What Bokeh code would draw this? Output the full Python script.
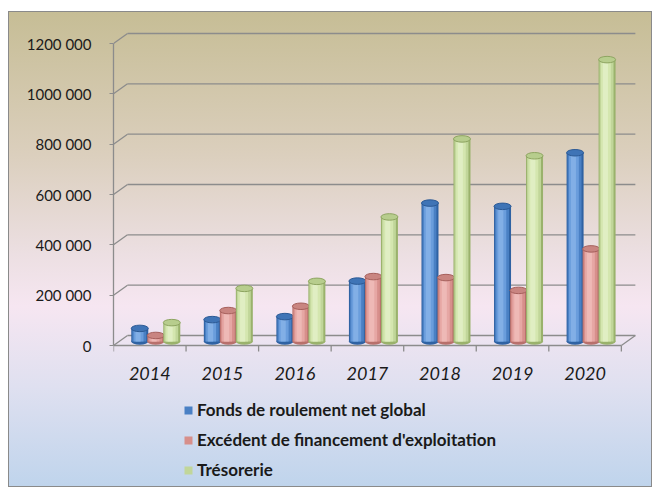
from bokeh.plotting import figure
from bokeh.models import FixedTicker, Legend, LegendItem, ColumnDataSource, Range1d
from bokeh.core.properties import value
from bokeh.embed import file_html
from bokeh.resources import INLINE

# ---------------- data ----------------
years = ["2014", "2015", "2016", "2017", "2018", "2019", "2020"]
fonds = [52000, 87000, 99000, 240000, 550000, 537000, 750000]
excedent = [24000, 123000, 140000, 258000, 254000, 203000, 368000]
tresorerie = [75000, 211000, 239000, 495000, 805000, 738000, 1120000]
series_names = ["Fonds de roulement net global",
                "Excédent de financement d'exploitation",
                "Trésorerie"]
y_ticks = [0, 200000, 400000, 600000, 800000, 1000000, 1200000]
y_tick_labels = ["0", "200 000", "400 000", "600 000", "800 000", "1000 000", "1200 000"]

# ---------------- geometry / style ----------------
W, H = 644, 476
TOP, BOTTOM = 19, 2
N = len(years)
X_END = N + 0.25
FRAME_W = 526
FRAME_H = H - TOP - BOTTOM
PX_X = FRAME_W / X_END            # px per category
Y_MAX = y_ticks[-1]
PX_Y = 302.0 / Y_MAX              # px per value unit
ZERO_FROM_TOP = 315               # px from frame top to the value 0
Y_END = ZERO_FROM_TOP / PX_Y
Y_START = -(FRAME_H - ZERO_FROM_TOP) / PX_Y

def dx(px):
    return px / PX_X

def dy(px):
    return px / PX_Y

FONT = "Lato"
GRID = "#8c8c8c"
TEXT = "#1a1a1a"

styles = [
    # dark edge, base, light, lighter, top, top rim
    ("#2f62a3", "#4a80c4", "#6a9ddc", "#82afe6", "#3f74b6", "#2c5a95"),
    ("#b8706c", "#d78f8b", "#e6a7a4", "#eeb9b6", "#c98581", "#a6605c"),
    ("#9ab26c", "#c1d69a", "#d4e6af", "#e0eec3", "#b7cd8d", "#8ea561"),
]

p = figure(width=W, height=H, output_backend="svg", toolbar_location=None,
           x_range=Range1d(0, X_END), y_range=Range1d(Y_START, Y_END),
           min_border_left=105, min_border_right=W - 105 - FRAME_W,
           min_border_top=TOP, min_border_bottom=BOTTOM)
p.margin = (11, 0, 0, 8)
p.styles = {
    "background-image": "linear-gradient(to bottom, #c6bd95 0%, #dbcfbd 30%, "
                        "#ecdfe2 51%, #f6e6f1 62%, #dfe0f0 79%, #bfd4ec 100%)",
    "outline": "1px solid #8a8a8a",
    "outline-offset": "-1px",
}
p.border_fill_alpha = 0
p.background_fill_alpha = 0
p.outline_line_color = None
p.xgrid.visible = False
p.ygrid.visible = False
p.xaxis.visible = False

# ---------------- back wall & floor ----------------
back_dx, back_dy = dx(14), dy(10)
p.segment(x0=[back_dx] * len(y_ticks), x1=[N + back_dx] * len(y_ticks),
          y0=[v + back_dy for v in y_ticks], y1=[v + back_dy for v in y_ticks],
          line_color=GRID, line_width=1.3)
p.segment(x0=[0] * len(y_ticks), x1=[back_dx] * len(y_ticks),
          y0=y_ticks, y1=[v + back_dy for v in y_ticks],
          line_color=GRID, line_width=1.3)
p.segment(x0=[N], x1=[N + back_dx], y0=[0], y1=[back_dy],
          line_color=GRID, line_width=1.3)

# category axis (front floor edge, ticks at category boundaries, labels)
p.segment(x0=[0], x1=[N], y0=[0], y1=[0], line_color=GRID, line_width=1.3)
p.segment(x0=list(range(N + 1)), x1=list(range(N + 1)),
          y0=[0] * (N + 1), y1=[-dy(6)] * (N + 1), line_color=GRID, line_width=1.3)
p.text(x=[i + 0.5 for i in range(N)], y=[-dy(28)] * N, text=years,
       text_font=value(FONT), text_font_style="italic", text_font_size="18px",
       text_color=TEXT, text_align="center", text_baseline="middle")

# ---------------- cylinders ----------------
bar_w = dx(17)
mid_dx, mid_dy = dx(6), dy(4)
cap_h = dy(6.5)
legend_renderers = []
for k, vals in enumerate([fonds, excedent, tresorerie]):
    edge, base, light, lighter, top_c, rim = styles[k]
    xs = [i + 0.5 + mid_dx + (k - 1) * dx(16) for i in range(N)]
    bottoms = [mid_dy] * N
    tops = [mid_dy + v for v in vals]
    src = ColumnDataSource(dict(x=xs, top=tops, bottom=bottoms))
    p.ellipse(x="x", y="bottom", width=bar_w, height=cap_h, source=src,
              fill_color=edge, line_color=None)
    p.vbar(x="x", top="top", bottom="bottom", width=bar_w, source=src,
           fill_color=edge, line_color=None)
    layers = [(0.82, -0.03, base), (0.58, -0.07, light), (0.30, -0.10, lighter)]
    for j, (f, sh, c) in enumerate(layers):
        s2 = ColumnDataSource(dict(x=[x + sh * bar_w for x in xs], top=tops, bottom=bottoms))
        r = p.vbar(x="x", top="top", bottom="bottom", width=bar_w * f, source=s2,
                   fill_color=c, line_color=None)
        if j == 0:
            legend_renderers.append(r)
    p.ellipse(x="x", y="top", width=bar_w, height=cap_h, source=src,
              fill_color=top_c, line_color=rim, line_width=1)

# ---------------- value axis ----------------
yax = p.yaxis[0]
yax.ticker = FixedTicker(ticks=y_ticks, minor_ticks=[])
yax.major_label_overrides = {v: t for v, t in zip(y_ticks, y_tick_labels)}
yax.bounds = (0, Y_MAX)
yax.axis_line_color = GRID
yax.axis_line_width = 1.3
yax.major_tick_line_color = GRID
yax.major_tick_out = 4
yax.major_tick_in = 0
yax.minor_tick_line_color = None
yax.major_label_standoff = 18
yax.major_label_text_font = FONT
yax.major_label_text_font_size = "15px"
yax.major_label_text_color = TEXT

# ---------------- legend ----------------
legend = Legend(items=[LegendItem(label=n, renderers=[r])
                       for n, r in zip(series_names, legend_renderers)],
                location=(70, 5))
legend.glyph_width = 10
legend.glyph_height = 10
legend.label_height = 20
legend.spacing = 9
legend.padding = 0
legend.margin = 0
legend.label_standoff = 4
legend.border_line_color = None
legend.background_fill_alpha = 0
legend.label_text_font = FONT
legend.label_text_font_style = "bold"
legend.label_text_font_size = "17px"
legend.label_text_color = TEXT
p.add_layout(legend)

open("out.html", "w").write(file_html(p, INLINE))
